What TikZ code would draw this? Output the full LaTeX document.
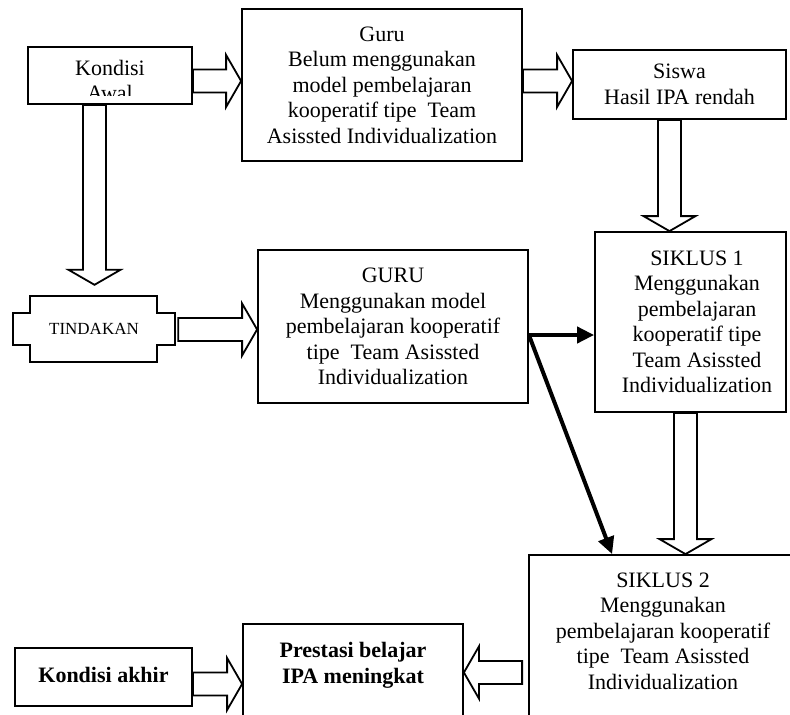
\documentclass[tikz,border=0pt]{standalone}
\usepackage{fontspec}
\setmainfont{Liberation Serif}
\usetikzlibrary{calc,arrows.meta}
\tikzset{
  box/.style={draw, line width=1.8pt, rectangle, inner sep=0pt, align=center,
    font=\fontsize{22}{25.5}\selectfont},
  txt/.style={align=center, inner sep=0pt, font=\fontsize{22}{25.5}\selectfont},
  blk/.style={draw, line width=1.8pt, fill=white, line join=miter},
  boldarrow/.style={line width=4pt, -{Triangle[length=17pt,width=16pt]}}
}
\newcommand\blockarrow[2]{%
  \draw[blk] let \p1=#1, \p2=#2, \n2={atan2(\y2-\y1,\x2-\x1)} in
    ($(\p1)+(\n2+90:11.5pt)$)
    -- ($(\p2)+(\n2+180:15pt)+(\n2+90:11.5pt)$)
    -- ($(\p2)+(\n2+180:15pt)+(\n2+90:26pt)$)
    -- (\p2)
    -- ($(\p2)+(\n2+180:15pt)+(\n2-90:26pt)$)
    -- ($(\p2)+(\n2+180:15pt)+(\n2-90:11.5pt)$)
    -- ($(\p1)+(\n2-90:11.5pt)$) -- cycle;}
\begin{document}
\begin{tikzpicture}[x=1pt,y=1pt]
\useasboundingbox (0,0) rectangle (790,-715);
\fill[white] (0,0) rectangle (790,-715);
\clip (0,0) rectangle (790,-715);

% boxes
\node[box, minimum width=164pt, minimum height=57pt] (kawal) at (110,-75.5) {};
\node[txt, anchor=base] (kawalt) at ($(kawal.center)+(0,0.5)$) {Kondisi};
\begin{scope}
  \clip (28,-47) rectangle (192,-95.5);
  \node[txt, anchor=base] (kawalt2) at ($(kawal.center)+(0,-25)$) {Awal};
\end{scope}

\node[box, minimum width=280pt, minimum height=152pt] (guru) at (382,-85)
  {Guru\\Belum menggunakan\\model pembelajaran\\kooperatif tipe\ \ Team\\Asissted Individualization};

\node[box, minimum width=213pt, minimum height=69pt] (siswa) at (679.5,-84.5)
  {Siswa\\Hasil IPA rendah};

\node[font=\fontsize{17}{20}\selectfont, inner sep=0pt, minimum width=162pt, minimum height=66pt] (tind) at (94,-329) {TINDAKAN};
\draw[line width=1.8pt, line join=miter]
  ($(tind.north west)+(17,0)$) -- ($(tind.north east)+(-18,0)$) -- ++(0,-17) -- ++(18,0)
  -- ($(tind.south east)+(0,17)$) -- ++(-18,0) -- ++(0,-17)
  -- ($(tind.south west)+(17,0)$) -- ++(0,17) -- ++(-17,0)
  -- ($(tind.north west)+(0,-17)$) -- ++(17,0) -- cycle;

\node[box, minimum width=270pt, minimum height=153pt] (guru2) at (393,-326.5)
  {GURU\\Menggunakan model\\pembelajaran kooperatif\\tipe\ \ Team Asissted\\Individualization};

\node[box, minimum width=191pt, minimum height=180pt] (s1) at (690.5,-322) {};
\node[txt] (s1t) at ($(s1.center)+(6.5,0)$)
  {SIKLUS 1\\Menggunakan\\pembelajaran\\kooperatif tipe\\Team Asissted\\Individualization};

\node[box, minimum width=268pt, minimum height=180pt] (s2) at (663,-645) {};
\node[txt] (s2t) at ($(s2.north)+(0,-77)$)
  {SIKLUS 2\\Menggunakan\\pembelajaran kooperatif\\tipe\ \ Team Asissted\\Individualization};

\node[box, minimum width=220pt, minimum height=111pt] (pres) at (353,-679.5) {};
\node[txt, font=\fontsize{22}{25.5}\selectfont\bfseries] (prest) at ($(pres.north)+(0,-42)$)
  {Prestasi belajar\\IPA meningkat};

\node[box, minimum width=177pt, minimum height=58pt, font=\fontsize{22}{25.5}\selectfont\bfseries] (kakhir) at (103.5,-677)
  {\raisebox{4pt}{Kondisi akhir}};

% block arrows
\blockarrow{($(kawal.east)+(0,-5.5)$)}{($(guru.west)+(0,4)$)}
\blockarrow{($(guru.east)+(0,4)$)}{($(siswa.west)+(0,3.5)$)}
\blockarrow{($(siswa.south)+(-10,0)$)}{($(s1.north)+(-21,0)$)}
\blockarrow{($(s1.south)+(-5,0)$)}{($(s2.north)+(22.5,0)$)}
\blockarrow{($(kawal.south)+(-15.5,0)$)}{($(tind.north)+(0.5,11)$)}
\blockarrow{($(tind.east)+(3,-0.5)$)}{($(guru2.west)+(0,-3)$)}
\blockarrow{($(s2.west)+(-6,-27.5)$)}{($(pres.east)+(0,7)$)}
\blockarrow{($(kakhir.east)+(0,-7)$)}{($(pres.west)+(0,-4.5)$)}

% bold arrows
\coordinate (g2a) at ($(guru2.east)+(0,-8.5)$);
\draw[boldarrow] (g2a) -- (s1.west |- g2a);
\draw[boldarrow] (g2a) -- ($(s2.north west)+(84,0)$);
\end{tikzpicture}
\end{document}
